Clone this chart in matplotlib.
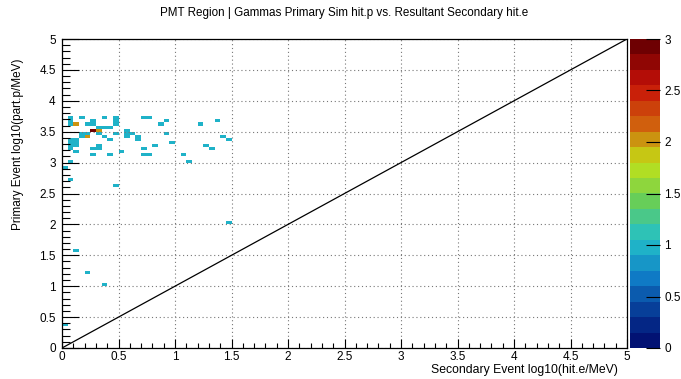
import numpy as np
import matplotlib
matplotlib.use('Agg')
import matplotlib.pyplot as plt
from matplotlib.colors import ListedColormap, BoundaryNorm, LinearSegmentedColormap
from matplotlib.ticker import MultipleLocator

plt.rcParams['font.family'] = ['Liberation Sans', 'DejaVu Sans']

# filled bins: x = log10(hit.e/MeV), y = log10(part.p/MeV) (bin centres), entries per bin
sec_loge = [0.075, 0.175, 0.375, 0.475, 0.725, 0.775,
            0.075, 0.275, 0.475, 0.925, 1.375,
            0.075, 0.125, 0.225, 0.275, 0.475, 0.875, 1.225,
            0.325, 0.375, 0.425,
            0.275, 0.325, 0.575,
            0.175, 0.225, 0.325, 0.475, 0.575, 0.625, 0.925,
            0.175, 0.225, 0.375, 0.575, 0.675, 1.425,
            0.075, 0.125, 0.425, 0.675, 1.475,
            0.075, 0.125, 0.975,
            0.075, 0.125, 0.325, 0.825, 1.275,
            0.075, 0.275, 0.325, 0.725, 1.325,
            0.125, 0.525,
            0.275, 0.425, 0.725, 0.775, 1.075,
            0.075, 1.125,
            0.025, 0.075, 0.475, 1.475, 0.125, 0.225, 0.375, 0.025]
prim_logp = [3.725]*6 + [3.675]*5 + [3.625]*7 + [3.575]*3 + [3.525]*3 + \
            [3.475]*7 + [3.425]*6 + [3.375]*5 + [3.325]*3 + [3.275]*5 + \
            [3.225]*5 + [3.175]*2 + [3.125]*5 + [3.025]*2 + \
            [2.925, 2.725, 2.625, 2.025, 1.575, 1.225, 1.025, 0.375]
n_hits = [1]*6 + [1]*5 + [1, 2, 1, 1, 1, 1, 1] + [1]*3 + [3, 2, 1] + \
         [1]*7 + [1, 2, 1, 1, 1, 1] + [1]*5 + [1]*3 + [1]*5 + \
         [1]*5 + [1]*2 + [1]*5 + [1]*2 + [1]*8

edges = np.linspace(0, 5, 101)
H, xe, ye = np.histogram2d(sec_loge, prim_logp, bins=[edges, edges], weights=n_hits)
H = np.ma.masked_where(H == 0, H)

# ROOT kRainBow palette, 20 contour levels
stops = [0.0, 0.125, 0.25, 0.375, 0.5, 0.625, 0.75, 0.875, 1.0]
red = [0, 5, 15, 35, 102, 196, 208, 199, 110]
green = [0, 48, 124, 192, 206, 226, 97, 16, 0]
blue = [99, 142, 198, 201, 90, 22, 13, 8, 2]
rainbow = LinearSegmentedColormap.from_list(
    'rainbow', [(s, (r/255, g/255, b/255)) for s, r, g, b in zip(stops, red, green, blue)])
ndiv = 20
band_pos = [int((i + 0.99) * 255 / ndiv) / 254 for i in range(ndiv)]
cmap = ListedColormap([rainbow(p) for p in band_pos])
cmap.set_over(cmap(ndiv - 1))
levels = np.linspace(0, 3, ndiv + 1)
norm = BoundaryNorm(levels, ndiv, extend='neither')

W, Hpx = 681, 379
fig = plt.figure(figsize=(W/100, Hpx/100), dpi=100)
ax = fig.add_axes([62/W, 1-348/Hpx, 565/W, 309/Hpx])
cax = fig.add_axes([630/W, 1-348/Hpx, 30/W, 309/Hpx])

mesh = ax.pcolormesh(xe, ye, H.T, cmap=cmap, norm=norm)
ax.plot([0, 5], [0, 5], color='black', lw=0.9)

ax.set_xlim(0, 5)
ax.set_ylim(0, 5)
fmt = plt.FuncFormatter(lambda v, p: '%g' % v)
for a in (ax.xaxis, ax.yaxis):
    a.set_major_locator(MultipleLocator(0.5))
    a.set_minor_locator(MultipleLocator(0.1))
    a.set_major_formatter(fmt)
ax.tick_params(axis='x', which='major', direction='in', length=6.8, width=0.8, labelsize=8.5, pad=2.5)
ax.tick_params(axis='x', which='minor', direction='in', length=3.4, width=0.8)
ax.tick_params(axis='y', which='major', direction='in', length=12, width=0.8, labelsize=8.5, pad=4.5)
ax.tick_params(axis='y', which='minor', direction='in', length=6, width=0.8)
ax.grid(True, which='major', color='#777777', linestyle=(0, (1, 2.5)), lw=0.8)
for s in ax.spines.values():
    s.set_linewidth(0.9)

cb = fig.colorbar(mesh, cax=cax, ticks=np.arange(0, 3.01, 0.5))
cb.outline.set_visible(False)
cb.ax.yaxis.set_major_formatter(fmt)
cb.ax.tick_params(direction='in', length=10, width=0.8, labelsize=8.5, pad=3)
cb.ax.minorticks_off()

fig.text(344/W, 1-13/Hpx, 'PMT Region | Gammas Primary Sim hit.p vs. Resultant Secondary hit.e',
         ha='center', va='center', fontsize=8.4)
fig.text(618/W, 1-370.5/Hpx, 'Secondary Event log10(hit.e/MeV)', ha='right', va='center', fontsize=8.8)
fig.text(18/W, 1-58/Hpx, 'Primary Event log10(part.p/MeV)', ha='center', va='top',
         rotation=90, fontsize=8.5)

fig.savefig('out.png', dpi=100)
